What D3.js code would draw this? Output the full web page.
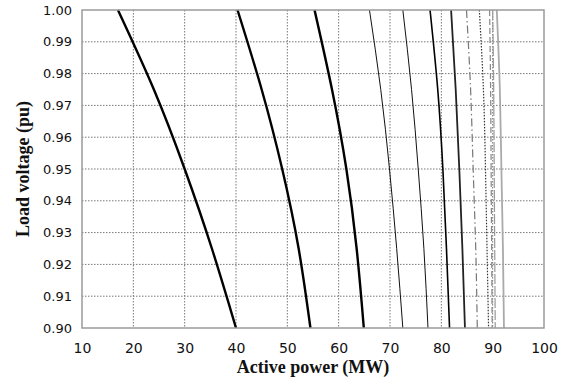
<!DOCTYPE html>
<html>
<head>
<meta charset="utf-8">
<script src="https://cdn.jsdelivr.net/npm/d3@7"></script>
<style>
  body { margin: 0; background: #fff; }
  .tick text { font-family: "DejaVu Sans", sans-serif; font-size: 13px; fill: #111; }
  .xax .tick text { font-size: 14px; }
  .title { font-family: "Liberation Serif", serif; font-weight: bold; font-size: 18px; fill: #111; }
</style>
</head>
<body>
<svg id="chart"></svg>
<script>
// voltage levels (pu) at which the curves are sampled
const voltages = [1.00, 0.975, 0.95, 0.925, 0.90];

// active power (MW) for each curve at the voltages above
const curve1  = [17.0, 24.0, 30.0, 35.3, 40.0];
const curve2  = [40.3, 45.0, 49.0, 52.2, 54.5];
const curve3  = [55.3, 58.7, 61.5, 63.5, 64.9];
const curve4  = [66.0, 68.2, 69.9, 71.3, 72.5];
const curve5  = [72.5, 74.2, 75.5, 76.6, 77.4];
const curve6  = [77.8, 79.3, 80.3, 81.0, 81.6];
const curve7  = [81.9, 82.8, 83.5, 84.1, 84.6];
const curve8  = [84.9, 85.7, 86.2, 86.7, 87.0];
const curve9  = [87.4, 88.2, 88.6, 88.9, 89.2];
const curve10 = [89.4, 89.6, 89.7, 89.8, 89.9];
const curve11 = [90.0, 90.2, 90.3, 90.4, 90.5];
const curve12 = [90.8, 91.4, 91.7, 92.0, 92.2];

const xTicks = [10, 20, 30, 40, 50, 60, 70, 80, 90, 100];
const yTicks = [0.90, 0.91, 0.92, 0.93, 0.94, 0.95, 0.96, 0.97, 0.98, 0.99, 1.00];

const width = 565, height = 387;
const margin = {top: 10, right: 21, bottom: 59, left: 82};
const innerW = width - margin.left - margin.right;
const innerH = height - margin.top - margin.bottom;

const svg = d3.select('#chart').attr('width', width).attr('height', height);
const chart = svg.append('g').attr('transform', `translate(${margin.left}, ${margin.top})`);

const xscale = d3.scaleLinear().domain([10, 100]).range([0, innerW]);
const yscale = d3.scaleLinear().domain([0.90, 1.00]).range([innerH, 0]);

// dotted grid
chart.append('g').selectAll('line')
    .data(xTicks.slice(1, -1))
    .join('line')
    .attr('x1', d => xscale(d)).attr('x2', d => xscale(d))
    .attr('y1', 0).attr('y2', innerH)
    .attr('stroke', '#777').attr('stroke-dasharray', '1.5,1.5');
chart.append('g').selectAll('line')
    .data(yTicks.slice(1, -1))
    .join('line')
    .attr('y1', d => yscale(d)).attr('y2', d => yscale(d))
    .attr('x1', 0).attr('x2', innerW)
    .attr('stroke', '#777').attr('stroke-dasharray', '1.5,1.5');

// curves
const styles = [
    {data: curve1,  color: '#000', w: 2.4},
    {data: curve2,  color: '#000', w: 2.4},
    {data: curve3,  color: '#000', w: 2.4},
    {data: curve4,  color: '#111', w: 1.0},
    {data: curve5,  color: '#111', w: 1.0},
    {data: curve6,  color: '#000', w: 1.6},
    {data: curve7,  color: '#222', w: 1.8},
    {data: curve8,  color: '#777', w: 1.2, dash: '8,3,1.5,3'},
    {data: curve9,  color: '#333', w: 1.2, dash: '1.5,1.5'},
    {data: curve10, color: '#888', w: 1.2, dash: '6,3'},
    {data: curve11, color: '#999', w: 1.2, dash: '10,2'},
    {data: curve12, color: '#aaa', w: 1.8}
];

const line = d3.line()
    .x(d => xscale(d[0]))
    .y(d => yscale(d[1]))
    .curve(d3.curveNatural);

chart.append('g').selectAll('path')
    .data(styles)
    .join('path')
    .attr('d', s => line(s.data.map((p, i) => [p, voltages[i]])))
    .attr('fill', 'none')
    .attr('stroke', s => s.color)
    .attr('stroke-width', s => s.w)
    .attr('stroke-dasharray', s => s.dash || null);

// frame
chart.append('rect')
    .attr('width', innerW).attr('height', innerH)
    .attr('fill', 'none').attr('stroke', '#9a9a9a').attr('stroke-width', 1.5);

// axes (labels only)
const xaxis = d3.axisBottom(xscale).tickValues(xTicks).tickSize(0).tickPadding(15);
chart.append('g')
    .attr('class', 'xax')
    .attr('transform', `translate(0, ${innerH})`)
    .call(xaxis)
    .call(g => g.select('.domain').remove());

const yaxis = d3.axisLeft(yscale).tickValues(yTicks).tickFormat(d3.format('.2f')).tickSize(0).tickPadding(10);
chart.append('g')
    .call(yaxis)
    .call(g => g.select('.domain').remove());

// titles
svg.append('text')
    .attr('class', 'title')
    .attr('text-anchor', 'middle')
    .attr('x', margin.left + innerW / 2)
    .attr('y', 373)
    .text('Active power (MW)');

svg.append('text')
    .attr('class', 'title')
    .attr('text-anchor', 'middle')
    .attr('transform', `translate(29, ${margin.top + innerH / 2}) rotate(-90)`)
    .text('Load voltage (pu)');
</script>
</body>
</html>
